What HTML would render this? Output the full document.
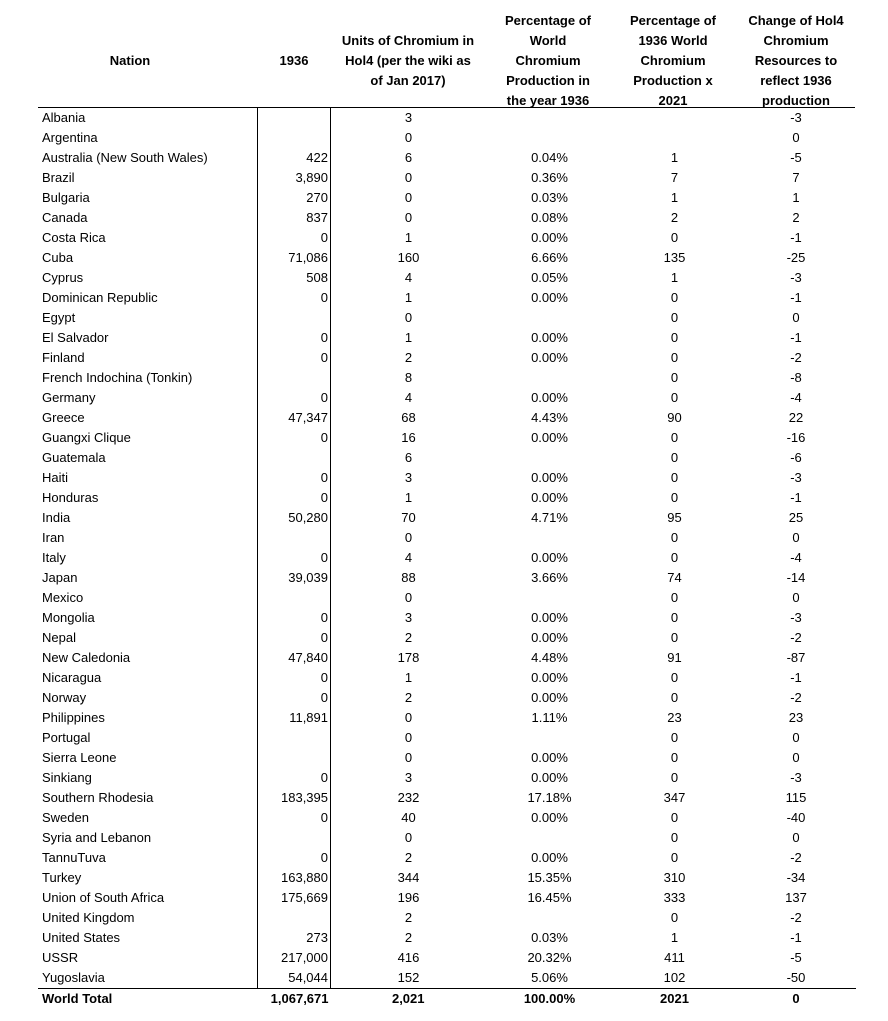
<!DOCTYPE html>
<html><head><style>
body{margin:0;width:888px;height:1021px;background:#fff;font-family:"Liberation Sans",sans-serif;font-size:13px;color:#000;position:relative;overflow:hidden}
.h{position:absolute;top:11px;font-weight:bold;text-align:center;line-height:20px;font-size:13px;white-space:nowrap}
table{position:absolute;left:38px;top:108px;border-collapse:collapse;table-layout:fixed;width:817px}
td{height:20px;padding:0;line-height:20px;white-space:nowrap}
td:nth-child(1){padding-left:4px;width:215px}
td:nth-child(2){width:70px;text-align:right;padding-right:2px;border-left:1px solid #000;border-right:1px solid #000}
td:nth-child(3){width:155px;text-align:center}
td:nth-child(4){width:127px;text-align:center}
td:nth-child(5){width:123px;text-align:center}
td:nth-child(6){width:120px;text-align:center}
tr.t td{font-weight:bold;border-top:1px solid #000;border-left:none;border-right:none}
</style></head><body>
<div style="position:absolute;left:38px;top:107px;width:817px;height:1px;background:#000"></div>
<div class="h" style="left:80px;width:100px;top:51px">Nation</div>
<div class="h" style="left:260px;width:68px;top:51px">1936</div>
<div class="h" style="left:332px;width:152px;top:31px">Units of Chromium in<br>Hol4 (per the wiki as<br>of Jan 2017)</div>
<div class="h" style="left:488px;width:120px">Percentage of<br>World<br>Chromium<br>Production in<br>the year 1936</div>
<div class="h" style="left:612px;width:122px">Percentage of<br>1936 World<br>Chromium<br>Production x<br>2021</div>
<div class="h" style="left:736px;width:120px">Change of Hol4<br>Chromium<br>Resources to<br>reflect 1936<br>production</div>
<table>
<tr><td>Albania</td><td></td><td>3</td><td></td><td></td><td>-3</td></tr>
<tr><td>Argentina</td><td></td><td>0</td><td></td><td></td><td>0</td></tr>
<tr><td>Australia (New South Wales)</td><td>422</td><td>6</td><td>0.04%</td><td>1</td><td>-5</td></tr>
<tr><td>Brazil</td><td>3,890</td><td>0</td><td>0.36%</td><td>7</td><td>7</td></tr>
<tr><td>Bulgaria</td><td>270</td><td>0</td><td>0.03%</td><td>1</td><td>1</td></tr>
<tr><td>Canada</td><td>837</td><td>0</td><td>0.08%</td><td>2</td><td>2</td></tr>
<tr><td>Costa Rica</td><td>0</td><td>1</td><td>0.00%</td><td>0</td><td>-1</td></tr>
<tr><td>Cuba</td><td>71,086</td><td>160</td><td>6.66%</td><td>135</td><td>-25</td></tr>
<tr><td>Cyprus</td><td>508</td><td>4</td><td>0.05%</td><td>1</td><td>-3</td></tr>
<tr><td>Dominican Republic</td><td>0</td><td>1</td><td>0.00%</td><td>0</td><td>-1</td></tr>
<tr><td>Egypt</td><td></td><td>0</td><td></td><td>0</td><td>0</td></tr>
<tr><td>El Salvador</td><td>0</td><td>1</td><td>0.00%</td><td>0</td><td>-1</td></tr>
<tr><td>Finland</td><td>0</td><td>2</td><td>0.00%</td><td>0</td><td>-2</td></tr>
<tr><td>French Indochina (Tonkin)</td><td></td><td>8</td><td></td><td>0</td><td>-8</td></tr>
<tr><td>Germany</td><td>0</td><td>4</td><td>0.00%</td><td>0</td><td>-4</td></tr>
<tr><td>Greece</td><td>47,347</td><td>68</td><td>4.43%</td><td>90</td><td>22</td></tr>
<tr><td>Guangxi Clique</td><td>0</td><td>16</td><td>0.00%</td><td>0</td><td>-16</td></tr>
<tr><td>Guatemala</td><td></td><td>6</td><td></td><td>0</td><td>-6</td></tr>
<tr><td>Haiti</td><td>0</td><td>3</td><td>0.00%</td><td>0</td><td>-3</td></tr>
<tr><td>Honduras</td><td>0</td><td>1</td><td>0.00%</td><td>0</td><td>-1</td></tr>
<tr><td>India</td><td>50,280</td><td>70</td><td>4.71%</td><td>95</td><td>25</td></tr>
<tr><td>Iran</td><td></td><td>0</td><td></td><td>0</td><td>0</td></tr>
<tr><td>Italy</td><td>0</td><td>4</td><td>0.00%</td><td>0</td><td>-4</td></tr>
<tr><td>Japan</td><td>39,039</td><td>88</td><td>3.66%</td><td>74</td><td>-14</td></tr>
<tr><td>Mexico</td><td></td><td>0</td><td></td><td>0</td><td>0</td></tr>
<tr><td>Mongolia</td><td>0</td><td>3</td><td>0.00%</td><td>0</td><td>-3</td></tr>
<tr><td>Nepal</td><td>0</td><td>2</td><td>0.00%</td><td>0</td><td>-2</td></tr>
<tr><td>New Caledonia</td><td>47,840</td><td>178</td><td>4.48%</td><td>91</td><td>-87</td></tr>
<tr><td>Nicaragua</td><td>0</td><td>1</td><td>0.00%</td><td>0</td><td>-1</td></tr>
<tr><td>Norway</td><td>0</td><td>2</td><td>0.00%</td><td>0</td><td>-2</td></tr>
<tr><td>Philippines</td><td>11,891</td><td>0</td><td>1.11%</td><td>23</td><td>23</td></tr>
<tr><td>Portugal</td><td></td><td>0</td><td></td><td>0</td><td>0</td></tr>
<tr><td>Sierra Leone</td><td></td><td>0</td><td>0.00%</td><td>0</td><td>0</td></tr>
<tr><td>Sinkiang</td><td>0</td><td>3</td><td>0.00%</td><td>0</td><td>-3</td></tr>
<tr><td>Southern Rhodesia</td><td>183,395</td><td>232</td><td>17.18%</td><td>347</td><td>115</td></tr>
<tr><td>Sweden</td><td>0</td><td>40</td><td>0.00%</td><td>0</td><td>-40</td></tr>
<tr><td>Syria and Lebanon</td><td></td><td>0</td><td></td><td>0</td><td>0</td></tr>
<tr><td>TannuTuva</td><td>0</td><td>2</td><td>0.00%</td><td>0</td><td>-2</td></tr>
<tr><td>Turkey</td><td>163,880</td><td>344</td><td>15.35%</td><td>310</td><td>-34</td></tr>
<tr><td>Union of South Africa</td><td>175,669</td><td>196</td><td>16.45%</td><td>333</td><td>137</td></tr>
<tr><td>United Kingdom</td><td></td><td>2</td><td></td><td>0</td><td>-2</td></tr>
<tr><td>United States</td><td>273</td><td>2</td><td>0.03%</td><td>1</td><td>-1</td></tr>
<tr><td>USSR</td><td>217,000</td><td>416</td><td>20.32%</td><td>411</td><td>-5</td></tr>
<tr><td>Yugoslavia</td><td>54,044</td><td>152</td><td>5.06%</td><td>102</td><td>-50</td></tr>
<tr class="t"><td>World Total</td><td>1,067,671</td><td>2,021</td><td>100.00%</td><td>2021</td><td>0</td></tr>
</table>
</body></html>
